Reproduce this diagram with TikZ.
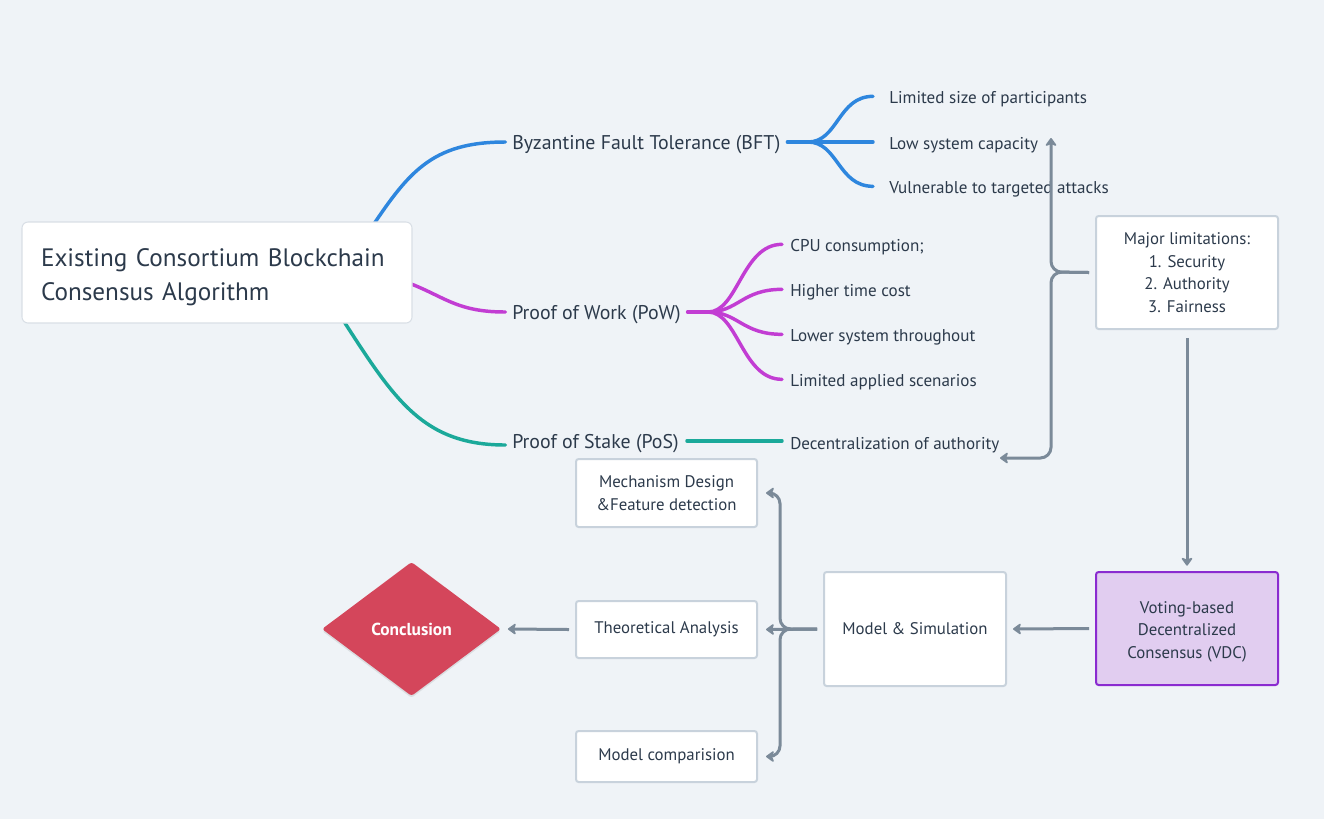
\documentclass[tikz,border=0pt]{standalone}
\usepackage{fontspec}
\setmainfont{PT Sans}
\usetikzlibrary{shapes.geometric,arrows.meta,calc,shadows}
\definecolor{bg}{HTML}{EFF3F7}
\definecolor{txt}{HTML}{2C3A4B}
\definecolor{boxline}{HTML}{C8D2DC}
\definecolor{agray}{HTML}{7B8A99}
\definecolor{cbft}{HTML}{2E86DE}
\definecolor{cpow}{HTML}{C23DD3}
\definecolor{cpos}{HTML}{1BA99A}
\definecolor{vdcfill}{HTML}{E1CDF0}
\definecolor{vdcline}{HTML}{8A2BD0}
\definecolor{cconcl}{HTML}{D4465B}
\pgfdeclarelayer{bglayer}
\pgfdeclarelayer{curves}
\pgfsetlayers{bglayer,curves,main}
\tikzset{
  leaf/.style={anchor=west, inner sep=0pt, text=txt, font=\fontsize{12.8}{15}\selectfont},
  branchlbl/.style={anchor=west, inner sep=0pt, text=txt, font=\fontsize{14.9}{17}\selectfont},
  box/.style={draw=boxline, fill=white, line width=1.5pt, rounded corners=2pt, align=center, text=txt, font=\fontsize{12.6}{16.9}\selectfont},
  arr/.style={draw=agray, line width=2.25pt, -{Stealth[length=7pt,width=10pt,inset=2pt,round]}},
  brch/.style={line width=2.6pt, line cap=round},
}
\begin{document}
\begin{tikzpicture}[x=0.75pt,y=-0.75pt]
\begin{pgfonlayer}{bglayer}
\fill[bg] (0,0) rectangle (1324,819);
\end{pgfonlayer}
\useasboundingbox (0,0) rectangle (1324,819);

% root
\node[draw=boxline!70, fill=white, line width=0.8pt, rounded corners=4.5pt, minimum width=292.5pt, minimum height=75.75pt, text width=264pt, align=left, inner xsep=14.25pt, text=txt, font=\fontsize{18.9}{25.5}\selectfont] (main) at (217,272.5) {\rule{0pt}{21pt}Existing Consortium Blockchain\\Consensus Algorithm};

% branches
\node[branchlbl] (bft) at (512,144.5) {Byzantine Fault Tolerance (BFT)};
\node[branchlbl] (pow) at (512,314.5) {Proof of Work (PoW)};
\node[branchlbl] (pos) at (512,443.5) {Proof of Stake (PoS)};

% leaves
\node[leaf] (b1) at (889,99) {Limited size of participants};
\node[leaf] (b2) at (889,145) {Low system capacity};
\node[leaf] (b3) at (889,189) {Vulnerable to targeted attacks};
\node[leaf] (p1) at (790,247) {CPU consumption;};
\node[leaf] (p2) at (790,292) {Higher time cost};
\node[leaf] (p3) at (790,337) {Lower system throughout};
\node[leaf] (p4) at (790,382) {Limited applied scenarios};
\node[leaf] (s1) at (790,445) {Decentralization of authority};

% boxes
\node[box, minimum width=136.5pt, minimum height=84.75pt] (major) at (1187,272.5) {Major limitations:\\1. Security\\2. Authority\\3. Fairness};
\node[box, draw=vdcline, fill=vdcfill, minimum width=136.5pt, minimum height=84.75pt] (vdc) at (1187,628.5) {\rule{0pt}{13.5pt}Voting-based\\Decentralized\\Consensus (VDC)};
\node[box, minimum width=136.5pt, minimum height=85.5pt] (model) at (915,629) {Model \& Simulation};
\node[box, minimum width=135.75pt, minimum height=51pt] (mech) at (666.5,493) {Mechanism Design\\\&Feature detection};
\node[box, minimum width=135.75pt, minimum height=42.75pt] (theo) at (666.5,629.5) {Theoretical Analysis};
\node[box, minimum width=135.75pt, minimum height=38.25pt] (comp) at (666.5,756.5) {Model comparision};
\node[diamond, fill=cconcl, minimum width=134.25pt, minimum height=100.5pt, inner sep=0pt, rounded corners=2pt, text=white, font=\bfseries\fontsize{13}{15}\selectfont, drop shadow={opacity=0.18, shadow xshift=0pt, shadow yshift=-1.5pt}] (concl) at (411.5,629) {Conclusion};

% free-end coordinates
\coordinate (hubb) at (808,142);
\coordinate (hubp) at (708,312);
\coordinate (t1) at (1051,138);
\coordinate (t2) at (1000,458);
\coordinate (jm) at (1051,272);
\coordinate (js) at (780,629);

% root curves
\begin{pgfonlayer}{curves}
\draw[brch, cbft] ($(main.north east)+(-45,12)$) .. controls +(40,-60) and +(-75,0) .. ([xshift=-5pt]bft.west |- hubb);
\draw[brch, cpow] ($(main.east)+(-20,5)$) .. controls +(50,15) and +(-55,0) .. ([xshift=-5pt]pow.west |- hubp);
\draw[brch, cpos] ($(main.south east)+(-75,-12)$) .. controls +(55,85) and +(-85,0) .. ([xshift=-5pt]pos.west |- s1.west);
\end{pgfonlayer}

% BFT sub-branches
\draw[brch, cbft] ([xshift=5pt]bft.east |- hubb) -- (hubb);
\draw[brch, cbft] (hubb) .. controls +(30,0) and +(-35,0) .. ([xshift=-12pt,yshift=2pt]b1.west);
\draw[brch, cbft] (hubb) -- ([xshift=-12pt]b1.west |- hubb);
\draw[brch, cbft] (hubb) .. controls +(30,0) and +(-35,0) .. ([xshift=-12pt,yshift=2pt]b3.west);
% PoW sub-branches
\draw[brch, cpow] ([xshift=5pt]pow.east |- hubp) -- (hubp);
\draw[brch, cpow] (hubp) .. controls +(30,0) and +(-40,0) .. ([xshift=-6pt,yshift=2pt]p1.west);
\draw[brch, cpow] (hubp) .. controls +(30,0) and +(-40,0) .. ([xshift=-6pt,yshift=2pt]p2.west);
\draw[brch, cpow] (hubp) .. controls +(30,0) and +(-40,0) .. ([xshift=-6pt,yshift=2pt]p3.west);
\draw[brch, cpow] (hubp) .. controls +(30,0) and +(-40,0) .. ([xshift=-6pt,yshift=2pt]p4.west);
% PoS
\draw[brch, cpos] ([xshift=6pt,yshift=2pt]pos.east) -- ([xshift=-6pt,yshift=2pt]s1.west |- pos.east);

% gray arrows
\draw[arr, rounded corners=8pt] ([xshift=-4.5pt]major.west) -- (jm) -- (t1);
\draw[arr, rounded corners=8pt] ([xshift=-4.5pt]major.west) -- (jm) -- (jm |- t2) -- (t2);
\draw[arr] ([yshift=-6pt]major.south) -- ([yshift=4pt]vdc.north);
\draw[arr] ([xshift=-4.5pt]vdc.west) -- ([xshift=4.5pt]model.east);
\draw[arr, rounded corners=8pt] ([xshift=-4.5pt]model.west) -- (js) -- (js |- mech.east) -- ([xshift=6pt]mech.east);
\draw[arr] ([xshift=-4.5pt]model.west) -- ([xshift=6pt]theo.east);
\draw[arr, rounded corners=8pt] ([xshift=-4.5pt]model.west) -- (js) -- (js |- comp.east) -- ([xshift=6pt]comp.east);
\draw[arr] ([xshift=-4.5pt]theo.west) -- ([xshift=5pt]concl.east);
\end{tikzpicture}
\end{document}
